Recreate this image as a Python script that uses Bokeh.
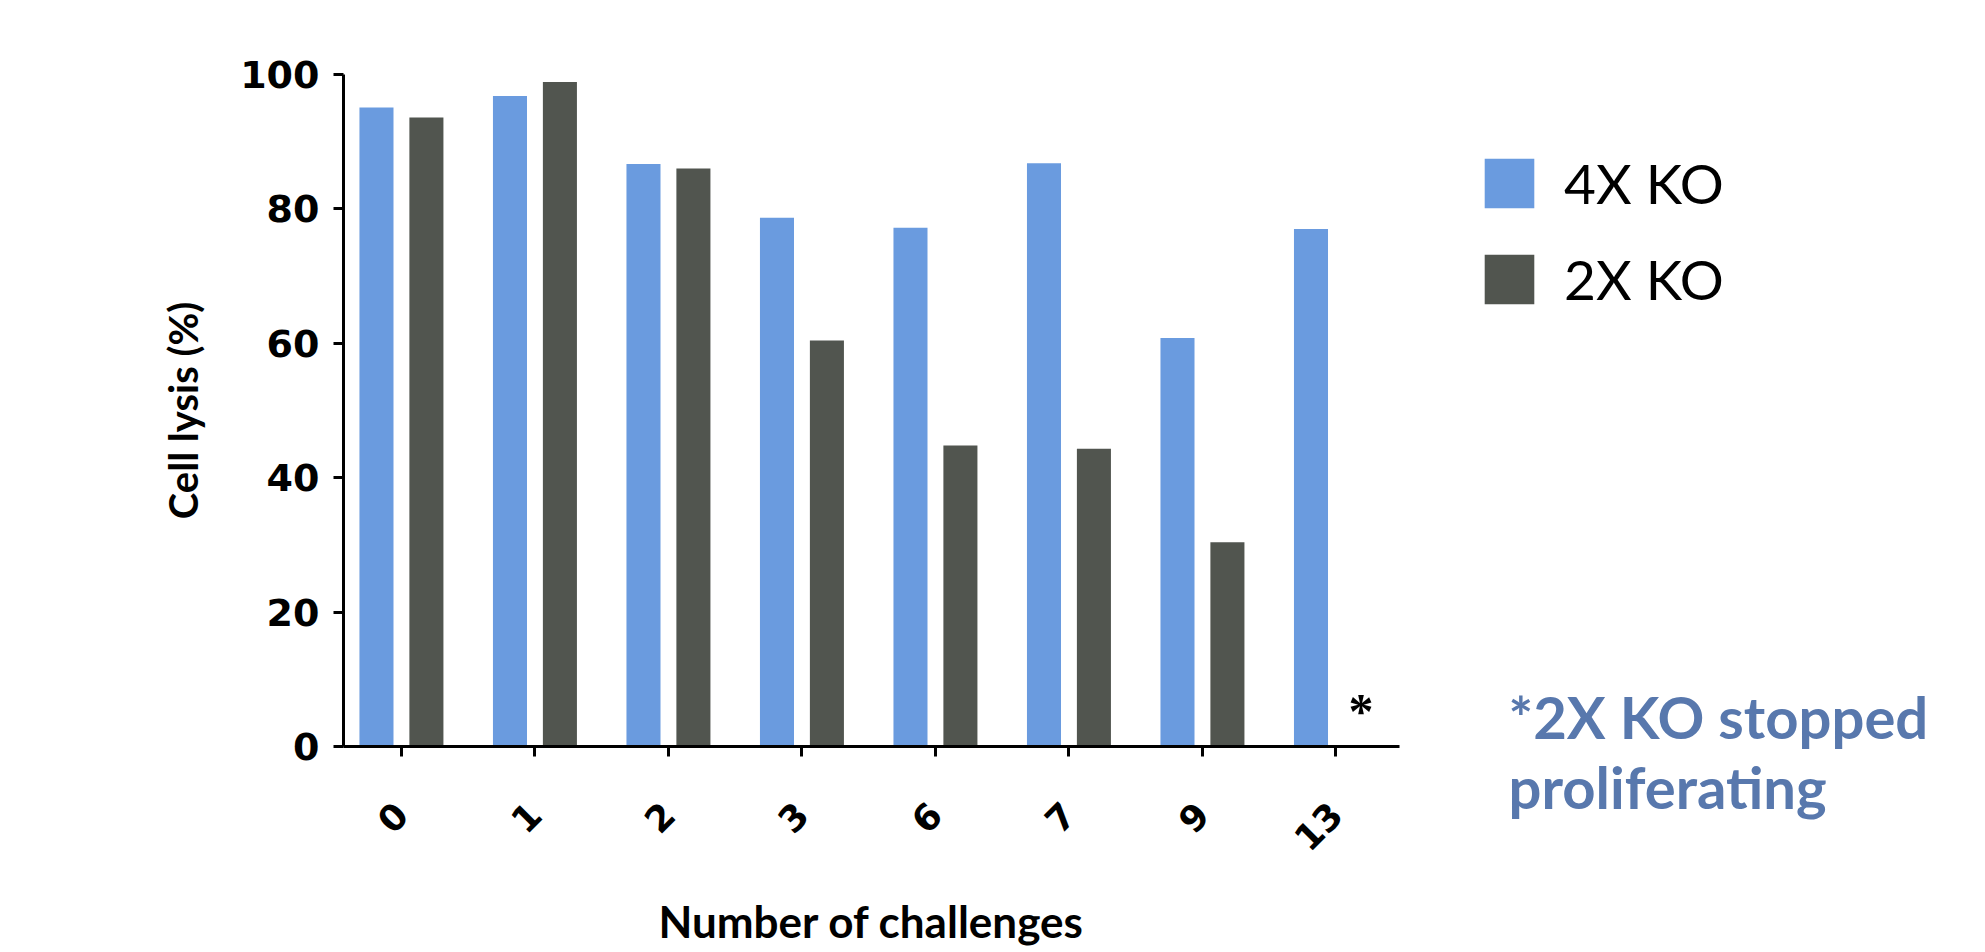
from bokeh.plotting import figure
from bokeh.models import (ColumnDataSource, Range1d, FixedTicker, Legend, LegendItem, Label)
from bokeh.transform import dodge
from bokeh.layouts import row
from bokeh.embed import file_html
from bokeh.resources import INLINE
import math

categories = ["0", "1", "2", "3", "6", "7", "9", "13"]
ko4 = [95.1, 96.8, 86.7, 78.7, 77.2, 86.8, 60.8, 77.0]
ko2 = [93.6, 98.9, 86.0, 60.4, 44.8, 44.3, 30.4, None]
y_ticks = [0, 20, 40, 60, 80, 100]
series_names = ["4X KO", "2X KO"]
note_lines = ["*2X KO stopped", "proliferating"]

BLUE = "#6A9BDF"
DARK = "#51554F"
NOTE = "#5878AD"

xpos = list(range(len(categories)))
src = ColumnDataSource(dict(x=xpos, ko4=ko4, ko2=[v if v is not None else float("nan") for v in ko2]))

W_MAIN = 1460
p = figure(width=W_MAIN, height=952, output_backend="svg", toolbar_location=None,
           x_range=Range1d(-0.434, 7.476), y_range=Range1d(0, 100),
           min_border_left=343, min_border_right=W_MAIN - 1399, min_border_top=74, min_border_bottom=206)
p.frame_align = False
p.outline_line_color = None
p.grid.visible = False

r1 = p.vbar(x=dodge("x", -0.187), top="ko4", width=0.255, source=src, fill_color=BLUE, line_color=None)
r2 = p.vbar(x=dodge("x", 0.187), top="ko2", width=0.255, source=src, fill_color=DARK, line_color=None)

# marker for the missing 2X KO value
missing = [i for i, v in enumerate(ko2) if v is None]
msrc = ColumnDataSource(dict(x=[i + 0.187 for i in missing], y=[0] * len(missing), t=["*"] * len(missing)))
p.text(x="x", y="y", text="t", source=msrc, text_font="DejaVu Sans", text_font_style="bold",
       text_font_size="50px", text_align="center", text_baseline="alphabetic", y_offset=-36,
       text_color="black")

xa = p.xaxis[0]
xa.ticker = FixedTicker(ticks=xpos)
xa.major_label_overrides = {i: c for i, c in enumerate(categories)}
xa.major_label_orientation = math.pi / 4
xa.major_label_text_font = "DejaVu Sans"
xa.major_label_text_font_style = "bold"
xa.major_label_text_font_size = "36px"
xa.major_label_text_color = "black"
xa.major_label_standoff = 52
xa.axis_label = "Number of challenges"
xa.axis_label_text_font = "Lato"
xa.axis_label_text_font_style = "bold"
xa.axis_label_text_font_size = "44px"
xa.axis_label_text_color = "black"
xa.axis_label_standoff = 30

ya = p.yaxis[0]
ya.ticker = FixedTicker(ticks=y_ticks)
ya.major_label_text_font = "DejaVu Sans"
ya.major_label_text_font_style = "bold"
ya.major_label_text_font_size = "38px"
ya.major_label_text_color = "black"
ya.major_label_standoff = 14
ya.axis_label = "Cell lysis (%)"
ya.axis_label_text_font = "Lato"
ya.axis_label_text_font_style = "bold"
ya.axis_label_text_font_size = "40px"
ya.axis_label_text_color = "black"
ya.axis_label_standoff = 30

for ax in (xa, ya):
    ax.axis_line_width = 3
    ax.axis_line_color = "black"
    ax.major_tick_line_width = 3
    ax.major_tick_line_color = "black"
    ax.major_tick_out = 10
    ax.major_tick_in = 0
    ax.minor_tick_line_color = None

# side panel figure holding the legend and the note
W_SIDE = 1985 - W_MAIN
q = figure(width=W_SIDE, height=952, output_backend="svg", toolbar_location=None,
           x_range=Range1d(0, W_SIDE), y_range=Range1d(0, 952),
           x_axis_type=None, y_axis_type=None, min_border=0)
q.frame_align = False
q.outline_line_color = None
q.grid.visible = False
# legend swatch carriers, kept outside the visible range
swatch = ColumnDataSource(dict(x=[-1e6], top=[0]))
g1 = q.vbar(x="x", top="top", width=1, source=swatch, fill_color=BLUE, line_color=None)
g2 = q.vbar(x="x", top="top", width=1, source=swatch, fill_color=DARK, line_color=None)

legend = Legend(items=[LegendItem(label=series_names[0], renderers=[g1]),
                       LegendItem(label=series_names[1], renderers=[g2])],
                location=(18, 640), margin=0, padding=10, border_line_color=None,
                background_fill_alpha=0, glyph_width=62, glyph_height=62,
                label_text_font="Lato", label_text_font_size="55px", label_standoff=24,
                spacing=30, label_text_color="black")
q.add_layout(legend, "center")

for txt, yy in zip(note_lines, [236, 166]):
    q.add_layout(Label(x=48, y=yy, text=txt, text_font="Lato", text_font_style="bold",
                       text_font_size="58px", text_color=NOTE, text_baseline="alphabetic"))

layout = row(p, q, spacing=0)
open("out.html", "w").write(file_html(layout, INLINE))
